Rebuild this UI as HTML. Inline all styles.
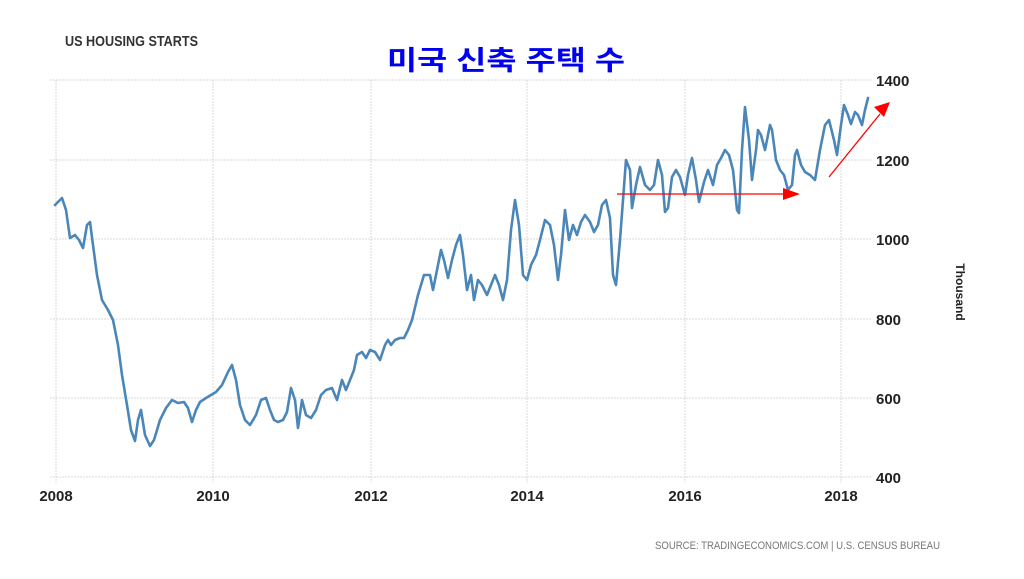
<!DOCTYPE html>
<html><head><meta charset="utf-8"><style>
body{margin:0;background:#fff;}
svg{display:block}
</style></head><body>
<svg width="1024" height="579" xmlns="http://www.w3.org/2000/svg">
<rect width="1024" height="579" fill="#fff"/>
<text x="65" y="46" font-family="Liberation Sans Narrow, Liberation Sans, sans-serif" font-size="15" font-weight="bold" fill="#333" textLength="133" lengthAdjust="spacingAndGlyphs">US HOUSING STARTS</text>
<text x="387" y="70" font-family="Liberation Sans, 'Noto Sans CJK KR', sans-serif" font-size="27" font-weight="bold" fill="#0000ee" textLength="238" lengthAdjust="spacingAndGlyphs">미국 신축 주택 수</text>
<g stroke="#d8d8d8" stroke-width="1" stroke-dasharray="2,1">
<line x1="50" y1="80" x2="872" y2="80"/>
<line x1="50" y1="160" x2="872" y2="160"/>
<line x1="50" y1="239" x2="872" y2="239"/>
<line x1="50" y1="319" x2="872" y2="319"/>
<line x1="50" y1="398" x2="872" y2="398"/>
<line x1="50" y1="477" x2="872" y2="477"/>
<line x1="56" y1="80" x2="56" y2="483"/>
<line x1="213" y1="80" x2="213" y2="483"/>
<line x1="371" y1="80" x2="371" y2="483"/>
<line x1="527" y1="80" x2="527" y2="483"/>
<line x1="685" y1="80" x2="685" y2="483"/>
<line x1="841" y1="80" x2="841" y2="483"/>
</g>
<g font-family="Liberation Sans Narrow, Liberation Sans, sans-serif" font-size="15" font-weight="bold" fill="#222">
<text x="876" y="86">1400</text>
<text x="876" y="166">1200</text>
<text x="876" y="245">1000</text>
<text x="876" y="325">800</text>
<text x="876" y="404">600</text>
<text x="876" y="483">400</text>
<g text-anchor="middle">
<text x="56" y="501">2008</text>
<text x="213" y="501">2010</text>
<text x="371" y="501">2012</text>
<text x="527" y="501">2014</text>
<text x="685" y="501">2016</text>
<text x="841" y="501">2018</text>
</g>
</g>
<text transform="translate(956,292) rotate(90)" text-anchor="middle" font-family="Liberation Sans, sans-serif" font-size="12" font-weight="bold" fill="#222">Thousand</text>
<text x="655" y="549" font-family="Liberation Sans Narrow, Liberation Sans, sans-serif" font-size="11" fill="#777" textLength="285" lengthAdjust="spacingAndGlyphs">SOURCE: TRADINGECONOMICS.COM | U.S. CENSUS BUREAU</text>
<polyline fill="none" stroke="#4a86b8" stroke-width="2.6" stroke-linejoin="round" stroke-linecap="round" points="55,205 62,198 66,210 70,238 75,235 79,240 83,248 87,225 90,222 93,245 97,275 102,300 108,310 113,320 118,345 122,375 127,405 131,430 135,441 138,420 141,410 145,435 150,446 154,440 160,420 166,408 172,400 178,403 184,402 188,408 192,422 196,410 200,402 206,398 211,395 216,392 222,385 228,372 232,365 236,380 240,405 245,420 250,425 256,415 261,400 266,398 270,410 274,420 278,422 283,420 287,412 291,388 295,400 298,428 302,400 306,415 311,418 316,410 321,395 326,390 332,388 337,400 342,380 346,390 350,380 354,370 357,355 362,352 366,358 370,350 375,352 380,360 385,345 388,340 391,345 395,340 400,338 404,338 408,330 412,320 418,295 424,275 430,275 433,290 437,270 441,250 444,260 448,278 452,260 456,245 460,235 463,255 467,290 471,275 474,300 478,280 482,285 487,295 491,285 495,275 499,285 503,300 507,280 511,230 515,200 519,225 523,275 527,280 531,265 536,255 540,240 545,220 550,225 554,245 558,280 561,255 565,210 569,240 573,225 577,235 581,222 585,215 590,222 594,232 598,225 602,205 606,200 610,218 613,275 616,285 620,240 626,160 630,170 632,208 636,185 640,167 645,185 650,190 654,185 658,160 662,175 665,212 668,208 672,177 676,170 680,177 685,195 688,175 692,158 696,180 699,202 704,182 708,170 713,185 717,165 721,158 725,150 729,155 733,170 737,210 739,213 742,150 745,107 749,140 752,180 756,150 758,130 761,135 765,150 770,125 772,130 776,160 780,170 784,175 788,190 792,185 795,155 797,150 801,165 805,172 810,175 815,180 820,150 825,125 829,120 834,140 837,155 841,125 844,105 848,115 851,124 855,112 858,115 862,125 865,110 868,98"/>
<line x1="617" y1="194" x2="785" y2="194" stroke="#f00" stroke-width="1.3"/>
<polygon points="783,188 800,194 783,200" fill="#f00"/>
<line x1="829" y1="177" x2="880" y2="114" stroke="#f00" stroke-width="1.3"/>
<polygon points="874,107 890,102 884,117" fill="#f00"/>
</svg>
</body></html>
